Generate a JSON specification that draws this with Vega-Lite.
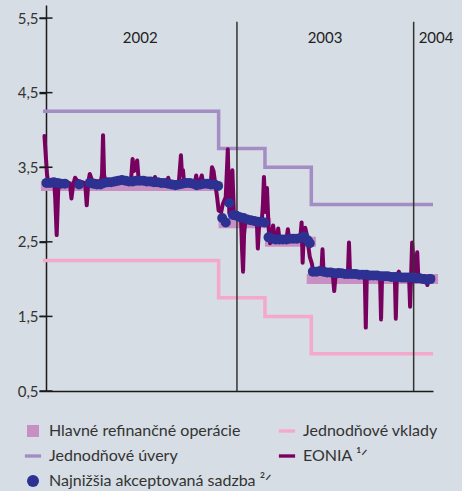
{
  "$schema": "https://vega.github.io/schema/vega-lite/v6.json",
  "width": 387,
  "height": 386,
  "autosize": "none",
  "padding": {"left": 46, "top": 5, "right": 29, "bottom": 100},
  "background": "#d6dde4",
  "config": {
    "view": {"stroke": null},
    "font": "Lato",
    "axis": {"grid": false, "domainColor": "#1a1a1a", "domainWidth": 1.5}
  },
  "datasets": {
    "refi": [
      {"date": "2001-12-22", "end": "2002-12-06", "v": 3.25},
      {"date": "2002-12-06", "end": "2003-03-19", "v": 2.75},
      {"date": "2003-03-07", "end": "2003-06-15", "v": 2.5},
      {"date": "2003-05-28", "end": "2004-02-10", "v": 2.0}
    ],
    "lending": [
      {"date": "2001-12-26", "v": 4.25},
      {"date": "2002-12-06", "v": 3.75},
      {"date": "2003-03-07", "v": 3.5},
      {"date": "2003-06-06", "v": 3.0},
      {"date": "2004-01-31", "v": 3.0}
    ],
    "deposit": [
      {"date": "2001-12-26", "v": 2.25},
      {"date": "2002-12-06", "v": 1.75},
      {"date": "2003-03-07", "v": 1.5},
      {"date": "2003-06-06", "v": 1.0},
      {"date": "2004-01-31", "v": 1.0}
    ],
    "eonia": [
      {"date": "2001-12-29", "v": 3.92},
      {"date": "2002-01-03", "v": 3.40},
      {"date": "2002-01-05", "v": 3.32},
      {"date": "2002-01-13", "v": 3.30},
      {"date": "2002-01-17", "v": 3.31},
      {"date": "2002-01-19", "v": 3.10},
      {"date": "2002-01-22", "v": 2.59},
      {"date": "2002-01-25", "v": 3.20},
      {"date": "2002-01-28", "v": 3.32},
      {"date": "2002-02-03", "v": 3.31},
      {"date": "2002-02-11", "v": 3.30},
      {"date": "2002-02-17", "v": 3.28},
      {"date": "2002-02-20", "v": 3.08},
      {"date": "2002-02-23", "v": 3.25},
      {"date": "2002-02-27", "v": 3.36},
      {"date": "2002-03-03", "v": 3.32},
      {"date": "2002-03-13", "v": 3.30},
      {"date": "2002-03-19", "v": 3.28},
      {"date": "2002-03-22", "v": 2.99},
      {"date": "2002-03-25", "v": 3.30},
      {"date": "2002-03-28", "v": 3.41},
      {"date": "2002-04-01", "v": 3.33},
      {"date": "2002-04-11", "v": 3.31},
      {"date": "2002-04-19", "v": 3.32},
      {"date": "2002-04-21", "v": 3.40},
      {"date": "2002-04-23", "v": 3.93},
      {"date": "2002-04-25", "v": 3.40},
      {"date": "2002-04-27", "v": 3.33},
      {"date": "2002-05-07", "v": 3.32},
      {"date": "2002-05-18", "v": 3.31},
      {"date": "2002-05-26", "v": 3.32},
      {"date": "2002-06-03", "v": 3.33},
      {"date": "2002-06-11", "v": 3.31},
      {"date": "2002-06-17", "v": 3.33},
      {"date": "2002-06-20", "v": 3.61},
      {"date": "2002-06-23", "v": 3.45},
      {"date": "2002-06-26", "v": 3.50},
      {"date": "2002-06-29", "v": 3.59},
      {"date": "2002-07-02", "v": 3.33},
      {"date": "2002-07-14", "v": 3.31},
      {"date": "2002-07-24", "v": 3.31},
      {"date": "2002-08-01", "v": 3.32},
      {"date": "2002-08-03", "v": 3.37},
      {"date": "2002-08-05", "v": 3.31},
      {"date": "2002-08-17", "v": 3.30},
      {"date": "2002-08-27", "v": 3.31},
      {"date": "2002-08-29", "v": 3.36},
      {"date": "2002-08-31", "v": 3.30},
      {"date": "2002-09-11", "v": 3.30},
      {"date": "2002-09-19", "v": 3.31},
      {"date": "2002-09-23", "v": 3.66},
      {"date": "2002-09-25", "v": 3.40},
      {"date": "2002-09-27", "v": 3.46},
      {"date": "2002-09-29", "v": 3.30},
      {"date": "2002-10-11", "v": 3.29},
      {"date": "2002-10-21", "v": 3.31},
      {"date": "2002-10-23", "v": 3.39},
      {"date": "2002-10-25", "v": 3.30},
      {"date": "2002-10-30", "v": 3.30},
      {"date": "2002-11-03", "v": 3.39},
      {"date": "2002-11-05", "v": 3.30},
      {"date": "2002-11-15", "v": 3.30},
      {"date": "2002-11-21", "v": 3.32},
      {"date": "2002-11-23", "v": 3.50},
      {"date": "2002-11-26", "v": 3.45},
      {"date": "2002-11-29", "v": 3.30},
      {"date": "2002-12-03", "v": 3.10},
      {"date": "2002-12-06", "v": 2.92},
      {"date": "2002-12-11", "v": 2.90},
      {"date": "2002-12-14", "v": 3.00},
      {"date": "2002-12-20", "v": 3.10},
      {"date": "2002-12-24", "v": 3.74},
      {"date": "2002-12-27", "v": 2.88},
      {"date": "2002-12-30", "v": 3.00},
      {"date": "2003-01-02", "v": 3.46},
      {"date": "2003-01-05", "v": 2.88},
      {"date": "2003-01-09", "v": 2.85},
      {"date": "2003-01-13", "v": 2.84},
      {"date": "2003-01-19", "v": 2.82},
      {"date": "2003-01-21", "v": 2.40},
      {"date": "2003-01-23", "v": 2.10},
      {"date": "2003-01-25", "v": 2.60},
      {"date": "2003-01-28", "v": 2.82},
      {"date": "2003-02-06", "v": 2.81},
      {"date": "2003-02-15", "v": 2.80},
      {"date": "2003-02-19", "v": 2.78},
      {"date": "2003-02-21", "v": 2.41},
      {"date": "2003-02-24", "v": 2.78},
      {"date": "2003-03-01", "v": 2.80},
      {"date": "2003-03-03", "v": 3.00},
      {"date": "2003-03-05", "v": 3.37},
      {"date": "2003-03-08", "v": 2.90},
      {"date": "2003-03-11", "v": 3.22},
      {"date": "2003-03-14", "v": 2.70},
      {"date": "2003-03-17", "v": 2.48},
      {"date": "2003-03-20", "v": 2.58},
      {"date": "2003-03-23", "v": 2.72},
      {"date": "2003-03-26", "v": 2.57},
      {"date": "2003-03-31", "v": 2.56},
      {"date": "2003-04-02", "v": 2.68},
      {"date": "2003-04-04", "v": 2.56},
      {"date": "2003-04-13", "v": 2.56},
      {"date": "2003-04-19", "v": 2.57},
      {"date": "2003-04-21", "v": 2.67},
      {"date": "2003-04-23", "v": 2.56},
      {"date": "2003-05-05", "v": 2.55},
      {"date": "2003-05-13", "v": 2.55},
      {"date": "2003-05-16", "v": 2.60},
      {"date": "2003-05-18", "v": 2.76},
      {"date": "2003-05-20", "v": 2.22},
      {"date": "2003-05-22", "v": 2.55},
      {"date": "2003-05-25", "v": 2.69},
      {"date": "2003-05-28", "v": 2.60},
      {"date": "2003-05-31", "v": 2.45},
      {"date": "2003-06-03", "v": 2.30},
      {"date": "2003-06-07", "v": 2.21},
      {"date": "2003-06-10", "v": 2.10},
      {"date": "2003-06-15", "v": 2.09},
      {"date": "2003-06-23", "v": 2.09},
      {"date": "2003-06-26", "v": 2.12},
      {"date": "2003-06-28", "v": 2.40},
      {"date": "2003-06-30", "v": 2.10},
      {"date": "2003-07-09", "v": 2.09},
      {"date": "2003-07-18", "v": 2.08},
      {"date": "2003-07-21", "v": 1.84},
      {"date": "2003-07-24", "v": 2.08},
      {"date": "2003-07-28", "v": 2.08},
      {"date": "2003-07-30", "v": 2.12},
      {"date": "2003-08-01", "v": 2.08},
      {"date": "2003-08-11", "v": 2.08},
      {"date": "2003-08-17", "v": 2.09},
      {"date": "2003-08-19", "v": 2.49},
      {"date": "2003-08-21", "v": 2.09},
      {"date": "2003-09-02", "v": 2.08},
      {"date": "2003-09-14", "v": 2.07},
      {"date": "2003-09-19", "v": 2.06},
      {"date": "2003-09-21", "v": 1.35},
      {"date": "2003-09-23", "v": 2.06},
      {"date": "2003-10-05", "v": 2.06},
      {"date": "2003-10-15", "v": 2.05},
      {"date": "2003-10-19", "v": 2.05},
      {"date": "2003-10-21", "v": 1.46},
      {"date": "2003-10-23", "v": 2.05},
      {"date": "2003-11-04", "v": 2.04},
      {"date": "2003-11-15", "v": 2.04},
      {"date": "2003-11-17", "v": 2.04},
      {"date": "2003-11-19", "v": 1.47},
      {"date": "2003-11-21", "v": 2.05},
      {"date": "2003-11-25", "v": 2.10},
      {"date": "2003-11-27", "v": 2.04},
      {"date": "2003-12-07", "v": 2.03},
      {"date": "2003-12-15", "v": 2.03},
      {"date": "2003-12-17", "v": 1.63},
      {"date": "2003-12-19", "v": 2.05},
      {"date": "2003-12-21", "v": 2.49},
      {"date": "2003-12-24", "v": 2.20},
      {"date": "2003-12-27", "v": 2.10},
      {"date": "2003-12-31", "v": 2.36},
      {"date": "2004-01-02", "v": 2.05},
      {"date": "2004-01-10", "v": 2.04},
      {"date": "2004-01-17", "v": 2.04},
      {"date": "2004-01-20", "v": 1.92},
      {"date": "2004-01-23", "v": 2.04},
      {"date": "2004-01-31", "v": 2.03}
    ],
    "lowest": [
      {"date": "2002-01-02", "v": 3.29},
      {"date": "2002-01-09", "v": 3.29},
      {"date": "2002-01-16", "v": 3.30},
      {"date": "2002-01-23", "v": 3.29},
      {"date": "2002-01-30", "v": 3.28},
      {"date": "2002-02-07", "v": 3.28},
      {"date": "2002-03-07", "v": 3.27},
      {"date": "2002-03-28", "v": 3.29},
      {"date": "2002-04-04", "v": 3.28},
      {"date": "2002-04-11", "v": 3.27},
      {"date": "2002-04-18", "v": 3.27},
      {"date": "2002-04-25", "v": 3.29},
      {"date": "2002-05-02", "v": 3.30},
      {"date": "2002-05-09", "v": 3.30},
      {"date": "2002-05-16", "v": 3.31},
      {"date": "2002-05-23", "v": 3.32},
      {"date": "2002-05-30", "v": 3.33},
      {"date": "2002-06-06", "v": 3.32},
      {"date": "2002-06-13", "v": 3.31},
      {"date": "2002-06-20", "v": 3.31},
      {"date": "2002-06-27", "v": 3.32},
      {"date": "2002-07-04", "v": 3.32},
      {"date": "2002-07-11", "v": 3.32},
      {"date": "2002-07-18", "v": 3.31},
      {"date": "2002-07-25", "v": 3.31},
      {"date": "2002-08-01", "v": 3.30},
      {"date": "2002-08-08", "v": 3.30},
      {"date": "2002-08-15", "v": 3.29},
      {"date": "2002-08-22", "v": 3.29},
      {"date": "2002-08-29", "v": 3.28},
      {"date": "2002-09-05", "v": 3.27},
      {"date": "2002-09-12", "v": 3.26},
      {"date": "2002-09-19", "v": 3.27},
      {"date": "2002-09-26", "v": 3.28},
      {"date": "2002-10-03", "v": 3.29},
      {"date": "2002-10-10", "v": 3.29},
      {"date": "2002-10-17", "v": 3.28},
      {"date": "2002-10-24", "v": 3.26},
      {"date": "2002-10-31", "v": 3.27},
      {"date": "2002-11-07", "v": 3.28},
      {"date": "2002-11-14", "v": 3.28},
      {"date": "2002-11-21", "v": 3.27},
      {"date": "2002-11-28", "v": 3.27},
      {"date": "2002-12-05", "v": 3.25},
      {"date": "2002-12-13", "v": 2.82},
      {"date": "2002-12-20", "v": 2.76},
      {"date": "2002-12-27", "v": 3.02},
      {"date": "2003-01-03", "v": 2.86},
      {"date": "2003-01-10", "v": 2.85},
      {"date": "2003-01-17", "v": 2.83},
      {"date": "2003-01-24", "v": 2.82},
      {"date": "2003-01-31", "v": 2.80},
      {"date": "2003-02-07", "v": 2.79},
      {"date": "2003-02-14", "v": 2.78},
      {"date": "2003-02-21", "v": 2.77},
      {"date": "2003-02-28", "v": 2.77},
      {"date": "2003-03-06", "v": 2.76},
      {"date": "2003-03-14", "v": 2.56},
      {"date": "2003-03-21", "v": 2.54},
      {"date": "2003-03-28", "v": 2.53},
      {"date": "2003-04-04", "v": 2.53},
      {"date": "2003-04-11", "v": 2.53},
      {"date": "2003-04-18", "v": 2.53},
      {"date": "2003-04-25", "v": 2.54},
      {"date": "2003-05-02", "v": 2.54},
      {"date": "2003-05-09", "v": 2.54},
      {"date": "2003-05-16", "v": 2.55},
      {"date": "2003-05-23", "v": 2.57},
      {"date": "2003-05-30", "v": 2.52},
      {"date": "2003-06-03", "v": 2.48},
      {"date": "2003-06-09", "v": 2.10},
      {"date": "2003-06-16", "v": 2.10},
      {"date": "2003-06-23", "v": 2.11},
      {"date": "2003-06-30", "v": 2.10},
      {"date": "2003-07-07", "v": 2.09},
      {"date": "2003-07-14", "v": 2.09},
      {"date": "2003-07-21", "v": 2.08},
      {"date": "2003-07-28", "v": 2.08},
      {"date": "2003-08-04", "v": 2.08},
      {"date": "2003-08-11", "v": 2.07},
      {"date": "2003-08-18", "v": 2.07},
      {"date": "2003-08-25", "v": 2.07},
      {"date": "2003-09-01", "v": 2.07},
      {"date": "2003-09-08", "v": 2.06},
      {"date": "2003-09-15", "v": 2.06},
      {"date": "2003-09-22", "v": 2.06},
      {"date": "2003-09-29", "v": 2.05},
      {"date": "2003-10-06", "v": 2.05},
      {"date": "2003-10-13", "v": 2.05},
      {"date": "2003-10-20", "v": 2.04},
      {"date": "2003-10-27", "v": 2.04},
      {"date": "2003-11-03", "v": 2.04},
      {"date": "2003-11-10", "v": 2.03},
      {"date": "2003-11-17", "v": 2.03},
      {"date": "2003-11-24", "v": 2.03},
      {"date": "2003-12-01", "v": 2.02},
      {"date": "2003-12-08", "v": 2.02},
      {"date": "2003-12-15", "v": 2.02},
      {"date": "2003-12-22", "v": 2.02},
      {"date": "2003-12-29", "v": 2.01},
      {"date": "2004-01-05", "v": 2.01},
      {"date": "2004-01-12", "v": 2.00},
      {"date": "2004-01-19", "v": 1.99},
      {"date": "2004-01-26", "v": 2.00}
    ]
  },
  "layer": [
    {
      "data": {"name": "refi"},
      "mark": {"type": "rule", "strokeWidth": 10, "color": "#c890c2", "strokeCap": "butt"},
      "encoding": {
        "x": {
          "field": "date", "type": "temporal",
          "scale": {"domain": [{"year": 2002, "month": 1, "date": 1, "utc": true}, {"year": 2004, "month": 1, "date": 31, "utc": true}]},
          "axis": {"title": null, "labels": false, "ticks": false, "domain": true, "domainColor": "#1a1a1a", "domainWidth": 1.5}
        },
        "x2": {"field": "end"},
        "y": {
          "field": "v", "type": "quantitative",
          "scale": {"domain": [0.5, 5.675], "nice": false, "zero": false},
          "axis": {
            "title": null,
            "values": [0.5, 1.5, 2.5, 3.5, 4.5, 5.5],
            "labelExpr": "replace(format(datum.value, '.1f'), '.', ',')",
            "ticks": true, "tickSize": 7, "tickWidth": 1.5, "tickColor": "#1a1a1a",
            "domain": true, "domainColor": "#1a1a1a", "domainWidth": 1.5,
            "labelPadding": 1, "labelFont": "Lato", "labelFontSize": 15, "labelColor": "#333333"
          }
        }
      }
    },
    {
      "data": {"name": "lending"},
      "mark": {"type": "line", "interpolate": "step-after", "strokeWidth": 3.5, "color": "#a48cc4"},
      "encoding": {"x": {"field": "date", "type": "temporal"}, "y": {"field": "v", "type": "quantitative"}}
    },
    {
      "data": {"name": "deposit"},
      "mark": {"type": "line", "interpolate": "step-after", "strokeWidth": 3.5, "color": "#f4a8cb"},
      "encoding": {"x": {"field": "date", "type": "temporal"}, "y": {"field": "v", "type": "quantitative"}}
    },
    {
      "data": {"name": "eonia"},
      "mark": {"type": "line", "strokeWidth": 4, "color": "#78005f", "strokeJoin": "round", "strokeCap": "round"},
      "encoding": {"x": {"field": "date", "type": "temporal"}, "y": {"field": "v", "type": "quantitative"}}
    },
    {
      "data": {"values": [{"date": "2003-01-11", "top": 5.45, "bottom": 0.5}, {"date": "2003-12-24", "top": 5.45, "bottom": 0.5}]},
      "mark": {"type": "rule", "strokeWidth": 1.5, "stroke": "#333333"},
      "encoding": {"x": {"field": "date", "type": "temporal"}, "y": {"field": "top", "type": "quantitative"}, "y2": {"field": "bottom"}}
    },
    {
      "data": {"values": [
        {"date": "2002-07-05", "year": "2002", "pos": 5.23},
        {"date": "2003-07-03", "year": "2003", "pos": 5.23},
        {"date": "2004-02-06", "year": "2004", "pos": 5.23}
      ]},
      "mark": {"type": "text", "font": "Lato", "fontSize": 15, "fill": "#222222", "align": "center", "baseline": "middle"},
      "encoding": {"x": {"field": "date", "type": "temporal"}, "y": {"field": "pos", "type": "quantitative"}, "text": {"field": "year"}}
    },
    {
      "data": {"values": [
        {"date": "2002-01-01", "v": 0.5}, {"date": "2002-01-01", "v": 1.5}, {"date": "2002-01-01", "v": 2.5},
        {"date": "2002-01-01", "v": 3.5}, {"date": "2002-01-01", "v": 4.5}, {"date": "2002-01-01", "v": 5.5}
      ]},
      "mark": {"type": "tick", "orient": "horizontal", "size": 13, "thickness": 1.5, "color": "#1a1a1a", "opacity": 1},
      "encoding": {"x": {"field": "date", "type": "temporal"}, "y": {"field": "v", "type": "quantitative"}}
    },
    {
      "data": {"name": "lowest"},
      "transform": [{"calculate": "'Najnižšia akceptovaná sadzba ²ᐟ'", "as": "series"}],
      "mark": {"type": "point", "filled": true, "opacity": 1, "size": 100},
      "encoding": {
        "x": {"field": "date", "type": "temporal"},
        "y": {"field": "v", "type": "quantitative"},
        "color": {
          "field": "series",
          "type": "nominal",
          "scale": {
            "domain": ["Hlavné refinančné operácie", "Jednodňové úvery", "Najnižšia akceptovaná sadzba ²ᐟ", "Jednodňové vklady", "EONIA ¹ᐟ"],
            "range": ["#c890c2", "#a48cc4", "#2d3192", "#f4a8cb", "#78005f"]
          },
          "legend": {
            "title": null, "orient": "none", "legendX": -21, "legendY": 418, "columns": 2,
            "columnPadding": 6, "rowPadding": 9, "labelFont": "Lato", "labelFontSize": 16,
            "labelColor": "#333333", "labelLimit": 400, "symbolSize": 144, "labelOffset": 8, "padding": 0
          }
        },
        "shape": {
          "field": "series",
          "type": "nominal",
          "scale": {
            "domain": ["Hlavné refinančné operácie", "Jednodňové úvery", "Najnižšia akceptovaná sadzba ²ᐟ", "Jednodňové vklady", "EONIA ¹ᐟ"],
            "range": ["square", "M-1.35,-0.28H1.35V0.28H-1.35Z", "circle", "M-1.35,-0.28H1.35V0.28H-1.35Z", "M-1.35,-0.28H1.35V0.28H-1.35Z"]
          },
          "legend": {
            "title": null, "orient": "none", "legendX": -21, "legendY": 418, "columns": 2,
            "columnPadding": 6, "rowPadding": 9, "labelFont": "Lato", "labelFontSize": 16,
            "labelColor": "#333333", "labelLimit": 400, "symbolSize": 144, "labelOffset": 8, "padding": 0
          }
        }
      }
    }
  ]
}
